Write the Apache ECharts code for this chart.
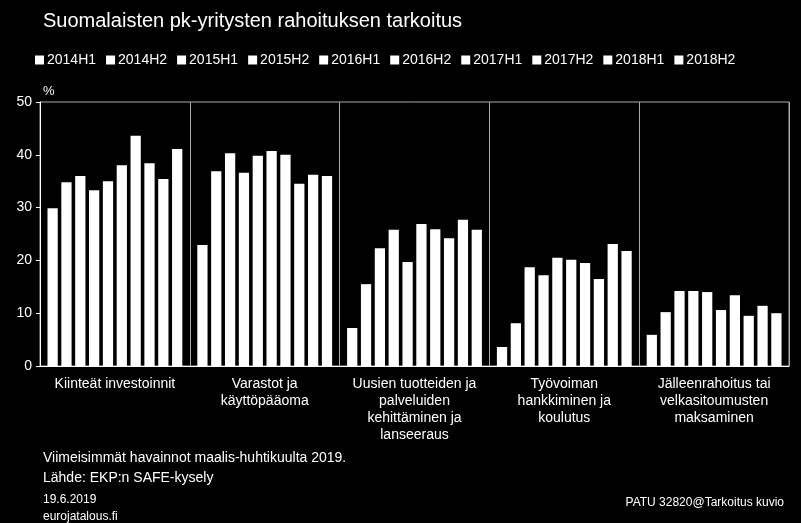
<!DOCTYPE html>
<html><head><meta charset="utf-8">
<script src="https://cdn.jsdelivr.net/npm/echarts@6/dist/echarts.min.js"></script>
<style>html,body{margin:0;background:#000}#c{width:801px;height:523px}</style></head>
<body><div id="c"></div>
<script>
const categories=['Kiinteät investoinnit','Varastot ja\nkäyttöpääoma','Uusien tuotteiden ja\npalveluiden\nkehittäminen ja\nlanseeraus','Työvoiman\nhankkiminen ja\nkoulutus','Jälleenrahoitus tai\nvelkasitoumusten\nmaksaminen'];
const periods=['2014H1','2014H2','2015H1','2015H2','2016H1','2016H2','2017H1','2017H2','2018H1','2018H2'];
const values=[
[29.9,22.9,7.2,3.6,5.9],
[34.8,36.9,15.5,8.1,10.2],
[36.0,40.3,22.3,18.7,14.2],
[33.3,36.6,25.8,17.2,14.2],
[35.0,39.8,19.7,20.5,14.0],
[38.0,40.7,26.9,20.1,10.6],
[43.6,40.0,25.9,19.5,13.4],
[38.4,34.5,24.2,16.5,9.5],
[35.4,36.2,27.7,23.1,11.4],
[41.1,36.0,25.8,21.8,10.0]];
const yTicks={min:0,max:50,interval:10};
const c=echarts.init(document.getElementById('c'));
const F='Liberation Sans, Arial, sans-serif';
c.setOption({
backgroundColor:'#000',animation:false,
textStyle:{fontFamily:F},
title:[{text:'Suomalaisten pk-yritysten rahoituksen tarkoitus',left:38,top:6,textStyle:{color:'#fff',fontSize:20,fontWeight:'normal',fontFamily:F}},
{text:'Viimeisimmät havainnot maalis-huhtikuulta 2019.\nLähde: EKP:n SAFE-kysely',left:38,top:443,textStyle:{color:'#fff',fontSize:14,fontWeight:'normal',lineHeight:20,fontFamily:F}},
{text:'19.6.2019\neurojatalous.fi',left:38,top:486,textStyle:{color:'#fff',fontSize:12,fontWeight:'normal',lineHeight:17,fontFamily:F}},
{text:'PATU 32820@Tarkoitus kuvio',right:12,top:492,textStyle:{color:'#fff',fontSize:12,fontWeight:'normal',fontFamily:F}},
{text:'%',left:38,top:80,textStyle:{color:'#fff',fontSize:13,fontWeight:'normal',fontFamily:F}}],
legend:{top:48,left:30,itemWidth:9,itemHeight:9,itemGap:10,icon:'rect',textStyle:{color:'#fff',fontSize:14,padding:[0,0,0,-2]},data:periods},
grid:{left:40,right:12,top:102,bottom:157,show:true,borderColor:'#aaa',borderWidth:1},
xAxis:{type:'category',data:categories,axisLine:{lineStyle:{color:'#fff'}},axisTick:{show:false},
splitLine:{show:true,lineStyle:{color:'#aaa'}},
axisLabel:{color:'#fff',fontSize:14,interval:0,lineHeight:17,margin:10}},
yAxis:{type:'value',...yTicks,axisLine:{show:true,lineStyle:{color:'#fff'}},axisTick:{show:true,length:4,lineStyle:{color:'#fff'}},splitLine:{show:false},
axisLabel:{color:'#fff',fontSize:14}},
series:periods.map((p,i)=>({name:p,type:'bar',data:values[i],itemStyle:{color:'#fff'},barGap:'35%',barCategoryGap:'10%'}))
});
</script></body></html>
